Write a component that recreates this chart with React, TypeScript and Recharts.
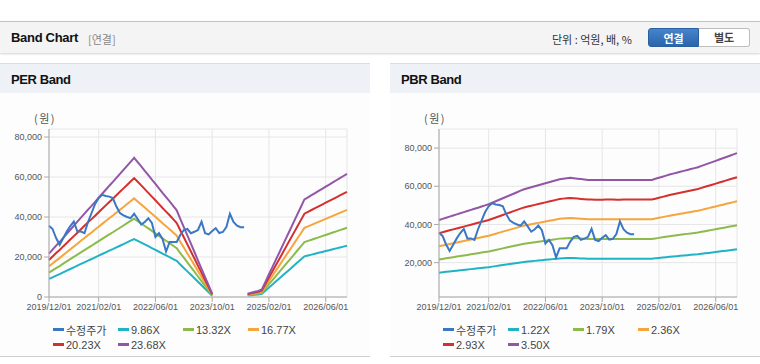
import React from 'react';
import { LineChart, Line, XAxis, YAxis, CartesianGrid } from 'recharts';

// monthly categories 2019/12/01 .. 2026/12/01
const dates: string[] = [];
for (let i = 0; i < 85; i++) {
  const m = (11 + i) % 12 + 1;
  const y = 2019 + Math.floor((11 + i) / 12);
  dates.push(`${y}/${String(m).padStart(2, '0')}/01`);
}

const xTicks = ['2019/12/01', '2021/02/01', '2022/06/01', '2023/10/01', '2025/02/01', '2026/06/01'];

const price: (number | null)[] = [
  35600, 34000, 29500, 26100, 29400, 32700, 35500, 37700, 32700, 32700, 31900, 37500,
  42000, 46500, 49500, 51100, 50500, 50200, 49500, 45200, 42000, 40800, 40000, 39400,
  41600, 39000, 36200, 37500, 39400, 37000, 30000, 31900, 29000, 22700, 27500, 27500,
  27500, 31000, 33500, 34000, 31900, 32600, 33500, 37700, 31900, 31300, 33000, 34400,
  32000, 32500, 35000, 41600, 37500, 35700, 34900, 34900,
  null, null, null, null, null, null, null, null, null, null, null, null, null, null, null,
  null, null, null, null, null, null, null, null, null, null, null, null, null, null,
];

// EPS (won per share), gap where no estimate
const eps: (number | null)[] = [
  915, 1000, 1085, 1160, 1250, 1335, 1420, 1505, 1590, 1675, 1760, 1845,
  1925, 2010, 2095, 2180, 2265, 2350, 2430, 2515, 2600, 2685, 2770, 2855,
  2940, 2850, 2760, 2665, 2575, 2480, 2390, 2295, 2200, 2110, 2020, 1925,
  1830, 1650, 1475, 1300, 1125, 950, 770, 595, 420, 245, 65,
  null, null, null, null, null, null, null, null, null,
  70, 90, 110, 130, 160, 320, 480, 635, 795, 950, 1110, 1270,
  1425, 1585, 1745, 1900, 2060, 2105, 2150, 2195, 2240, 2285, 2330, 2375,
  2420, 2465, 2510, 2555, 2600,
];

// BPS (won per share)
const bps: number[] = [
  12100, 12270, 12430, 12600, 12770, 12940, 13100, 13270, 13440, 13610, 13780, 13940,
  14110, 14280, 14450, 14680, 14900, 15130, 15350, 15580, 15800, 16030, 16250, 16480,
  16700, 16850, 17000, 17150, 17300, 17450, 17600, 17750, 17900, 18050, 18200, 18270,
  18340, 18400, 18340, 18280, 18220, 18160, 18100, 18100, 18080, 18080, 18080, 18100,
  18100, 18100, 18080, 18080, 18100, 18100, 18100, 18100, 18100, 18100, 18100, 18100,
  18100, 18260, 18420, 18580, 18740, 18900, 19040, 19180, 19310, 19450, 19590, 19730,
  19860, 20000, 20190, 20380, 20570, 20760, 20950, 21150, 21340, 21530, 21720, 21910,
  22100,
];

const perMultiples = [9.86, 13.32, 16.77, 20.23, 23.68];
const pbrMultiples = [1.22, 1.79, 2.36, 2.93, 3.5];
const perLabels = ['9.86X', '13.32X', '16.77X', '20.23X', '23.68X'];
const pbrLabels = ['1.22X', '1.79X', '2.36X', '2.93X', '3.50X'];

const priceColor = '#3a78c6';
const bandColors = ['#1fb3c4', '#8cbb4c', '#f6a53c', '#d3302e', '#9356a6'];

const buildRows = (base: (number | null)[], mults: number[]) =>
  dates.map((date, i) => {
    const row: Record<string, any> = { date, price: price[i] };
    mults.forEach((m, k) => {
      const b = base[i];
      row[`b${k}`] = b == null ? null : Math.round(b * m);
    });
    return row;
  });

const perRows = buildRows(eps, perMultiples);
const pbrRows = buildRows(bps, pbrMultiples);

const fmt = (v: number) => v.toLocaleString('en-US');
const axisColor = '#a8a8a8';
const tickStyle = { fill: '#555', fontSize: 9, fontFamily: "'Liberation Sans', Arial, sans-serif" };

interface PanelProps {
  left: number;
  title: string;
  rows: Record<string, any>[];
  labels: string[];
  domain: [number, number];
  yTicks: number[];
}

const Panel: React.FC<PanelProps> = ({ left, title, rows, labels, domain, yTicks }) => {
  const legend = [{ name: '수정주가', color: priceColor }, ...labels.map((l, i) => ({ name: l, color: bandColors[i] }))];
  return (
    <div style={{ position: 'absolute', left, top: 63, width: 370, height: 292, background: '#fdfdfd', borderTop: '1px solid #dcdcdc', borderBottom: '1px solid #cfcfcf' }}>
      <div style={{ height: 29, background: '#eef1f6', fontWeight: 700, fontSize: 13, letterSpacing: -0.4, color: '#111', lineHeight: '31px', paddingLeft: 11 }}>
        {title}
      </div>
      <div style={{ position: 'absolute', left: 34, top: 46, fontSize: 11, color: '#555', fontFamily: "'Noto Sans CJK KR', sans-serif", letterSpacing: 1.5 }}>
        (원)
      </div>
      <div style={{ position: 'absolute', left: 0, top: 37 }}>
        <LineChart width={370} height={230} data={rows} margin={{ top: 28, right: 23, bottom: 4, left: 0 }}>
          <CartesianGrid stroke="#e6e6e6" />
          <XAxis dataKey="date" ticks={xTicks} interval={0} tick={tickStyle} tickSize={5} height={30}
            axisLine={{ stroke: axisColor }} tickLine={{ stroke: axisColor }} />
          <XAxis xAxisId="top" orientation="top" dataKey="date" tick={false} tickLine={false} height={0}
            axisLine={{ stroke: axisColor }} />
          <YAxis domain={domain} ticks={yTicks} interval={0} tick={tickStyle} tickFormatter={fmt} width={49} tickSize={5}
            allowDataOverflow axisLine={{ stroke: axisColor }} tickLine={{ stroke: axisColor }} />
          <YAxis yAxisId="right" orientation="right" tick={false} tickLine={false} width={0}
            axisLine={{ stroke: axisColor }} />
          {[0, 1, 2, 3, 4].map(k => (
            <Line key={k} dataKey={`b${k}`} stroke={bandColors[k]} strokeWidth={2} dot={false}
              isAnimationActive={false} />
          ))}
          <Line dataKey="price" stroke={priceColor} strokeWidth={2} dot={false} isAnimationActive={false} />
        </LineChart>
      </div>
      <div style={{ position: 'absolute', left: 53, top: 258, width: 280, display: 'flex', flexWrap: 'wrap', fontSize: 11, color: '#444', fontFamily: "'Liberation Sans', 'Noto Sans CJK KR', sans-serif" }}>
        {legend.map(it => (
          <div key={it.name} style={{ width: 65, height: 15, display: 'flex', alignItems: 'center' }}>
            <span style={{ display: 'inline-block', width: 11, height: 3, background: it.color, marginRight: 2 }} />
            <span>{it.name}</span>
          </div>
        ))}
      </div>
    </div>
  );
};

export default function App() {
  return (
    <div style={{ position: 'absolute', left: 0, top: 0, width: 760, height: 364, background: '#fff', fontFamily: "'Liberation Sans', 'Noto Sans CJK KR', sans-serif", overflow: 'hidden' }}>
      <div style={{ position: 'absolute', left: 0, top: 21, width: 760, height: 31, background: '#f4f4f4', borderTop: '1px solid #c4c4c4', boxShadow: '0 1px 2px rgba(0,0,0,0.18)' }}>
        <span style={{ position: 'absolute', left: 11, top: 8, fontSize: 13, fontWeight: 700, letterSpacing: -0.3, color: '#111' }}>Band Chart</span>
        <span style={{ position: 'absolute', left: 88, top: 9, fontSize: 11, color: '#888', fontFamily: "'Noto Sans CJK KR', sans-serif" }}>[연결]</span>
        <span style={{ position: 'absolute', left: 552, top: 9, fontSize: 11, color: '#333', fontFamily: "'Noto Sans CJK KR', sans-serif" }}>단위 : 억원, 배, %</span>
        <div style={{ position: 'absolute', left: 648, top: 6, display: 'flex', height: 19, fontSize: 11, fontWeight: 700, fontFamily: "'Noto Sans CJK KR', sans-serif" }}>
          <div style={{ width: 51, background: 'linear-gradient(#4584cc, #2b64ab)', color: '#fff', borderRadius: '3px 0 0 3px', textAlign: 'center', lineHeight: '19px', border: '1px solid #2a5e9f', boxSizing: 'border-box' }}>연결</div>
          <div style={{ width: 51, background: '#fff', color: '#444', borderRadius: '0 3px 3px 0', textAlign: 'center', lineHeight: '17px', border: '1px solid #bdbdbd', borderLeft: 'none', boxSizing: 'border-box' }}>별도</div>
        </div>
      </div>
      <Panel left={0} title="PER Band" rows={perRows} labels={perLabels} domain={[0, 84000]} yTicks={[0, 20000, 40000, 60000, 80000]} />
      <Panel left={390} title="PBR Band" rows={pbrRows} labels={pbrLabels} domain={[2000, 90000]} yTicks={[20000, 40000, 60000, 80000]} />
    </div>
  );
}
